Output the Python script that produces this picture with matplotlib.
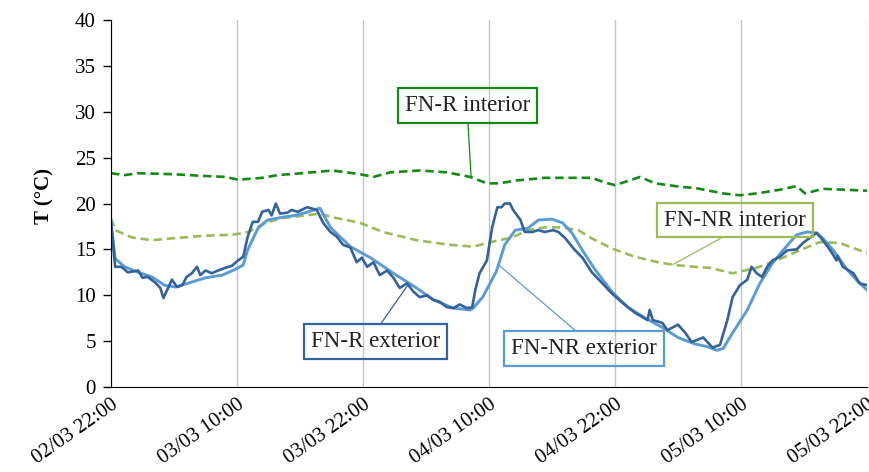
import numpy as np
import pandas as pd
import matplotlib as mpl
mpl.use('Agg')
import matplotlib.pyplot as plt
import matplotlib.dates as mdates

plt.rcParams['font.family'] = ['Liberation Serif', 'DejaVu Serif']

# hours after 02/03 22:00 and temperature [degC]
h_r_int = [0, 1.3, 2.6, 5.8, 9.0, 10.9, 12.1, 14.4, 15.9, 18.2, 21.1, 23.7, 25.0, 26.6,
           29.4, 32.0, 34.2, 35.8, 37.0, 38.5, 41.3, 45.8, 47.0, 48.0, 50.4, 51.8,
           54.4, 55.6, 58.3, 59.9, 61.5, 63.7, 65.3, 66.1, 67.8, 72.0]
t_r_int = [23.3, 23.1, 23.3, 23.2, 23.0, 22.9, 22.6, 22.8, 23.1, 23.3, 23.6, 23.2, 22.9, 23.4,
           23.6, 23.4, 22.9, 22.2, 22.2, 22.5, 22.8, 22.8, 22.3, 22.0, 22.9, 22.2,
           21.8, 21.7, 21.1, 20.9, 21.1, 21.5, 21.9, 21.1, 21.6, 21.4]

h_nr_int = [0, 0.4, 2.0, 3.9, 5.8, 9.0, 11.6, 13.1, 14.7, 16.3, 17.8, 19.9, 21.1, 23.7,
            25.9, 29.1, 32.3, 34.5, 35.8, 38.2, 39.7, 41.3, 43.0, 44.5, 45.8, 47.7,
            49.9, 52.1, 53.7, 55.6, 57.0, 59.2, 61.5, 63.4, 65.6, 67.5, 69.4, 72.0]
t_nr_int = [18.4, 17.1, 16.3, 16.0, 16.2, 16.5, 16.6, 16.9, 17.9, 18.4, 18.6, 18.9, 18.5, 17.9,
            16.9, 16.0, 15.5, 15.3, 15.7, 16.3, 17.1, 17.4, 17.4, 17.1, 16.2, 15.1,
            14.2, 13.6, 13.3, 13.1, 13.0, 12.4, 13.0, 13.8, 14.9, 15.8, 15.7, 14.6]

h_r_ext = [0, 0.4, 1.0, 1.6, 2.6, 3.0, 3.5, 4.2, 4.7, 5.0, 5.8, 6.3, 6.8, 7.2, 7.7, 8.2,
           8.5, 9.0, 9.6, 10.2, 10.9, 11.5, 12.1, 12.6, 13.0, 13.5, 14.0, 14.4, 15.0,
           15.3, 15.7, 16.1, 16.8, 17.2, 17.8, 18.5, 18.7, 19.6, 20.2, 20.9, 21.5,
           22.1, 22.8, 23.4, 23.9, 24.4, 25.0, 25.6, 26.3, 26.9, 27.5, 28.2, 28.8,
           29.4, 30.1, 30.7, 31.3, 32.0, 32.6, 33.2, 33.9, 34.4, 34.7, 35.1, 35.8,
           36.3, 36.8, 37.2, 37.5, 38.0, 38.3, 39.0, 39.4, 40.1, 40.7, 41.3, 42.1,
           42.6, 43.2, 44.2, 44.9, 45.8, 46.8, 47.7, 48.7, 49.9, 51.1, 51.3, 51.6,
           52.5, 53.0, 54.0, 54.7, 55.3, 56.4, 57.3, 58.0, 58.7, 59.2, 59.9, 60.6,
           61.0, 61.5, 62.0, 62.5, 63.0, 63.7, 64.4, 65.3, 65.9, 66.6, 67.2, 67.8,
           68.5, 69.1, 69.2, 69.7, 70.7, 71.3, 72.0]
t_r_ext = [18.0, 13.1, 13.1, 12.5, 12.7, 11.9, 12.0, 11.4, 10.8, 9.7, 11.7, 10.9, 11.1, 12.0,
           12.4, 13.1, 12.2, 12.7, 12.4, 12.7, 13.0, 13.2, 13.8, 14.2, 16.3, 18.0, 18.0,
           19.1, 19.3, 18.7, 20.0, 18.9, 19.0, 19.3, 19.1, 19.5, 19.6, 19.3, 17.9, 16.9,
           16.4, 15.5, 15.2, 13.6, 14.1, 13.1, 13.6, 12.2, 12.7, 11.9, 10.8, 11.3, 10.4,
           9.8, 10.0, 9.5, 9.3, 8.7, 8.6, 9.0, 8.6, 8.7, 10.6, 12.4, 13.8, 17.4, 19.6,
           19.6, 20.0, 20.0, 19.3, 18.2, 16.9, 16.9, 17.1, 16.9, 17.1, 16.9, 16.3, 14.9,
           14.1, 12.5, 11.3, 10.2, 9.2, 8.1, 7.3, 8.4, 7.3, 7.0, 6.2, 6.8, 5.9, 4.9, 5.4,
           4.3, 4.6, 7.3, 9.8, 11.1, 11.7, 13.1, 12.4, 12.0, 13.1, 13.8, 14.2, 14.9, 15.0,
           15.7, 16.3, 16.8, 16.0, 14.9, 13.8, 14.3, 13.1, 12.4, 11.3, 11.1]

h_nr_ext = [0, 0.4, 1.3, 2.6, 3.9, 5.1, 6.1, 7.3, 9.0, 10.6, 11.8, 12.6, 13.0, 14.0, 14.9,
            16.3, 17.5, 18.5, 19.9, 20.9, 22.8, 24.7, 26.9, 29.1, 30.7, 32.6, 34.2, 34.5,
            35.4, 36.7, 37.5, 38.5, 39.7, 40.7, 42.0, 43.0, 43.9, 44.9, 46.1, 47.7, 49.2,
            50.9, 52.5, 54.0, 55.6, 56.8, 57.7, 58.3, 59.2, 60.6, 61.8, 63.0, 64.0, 65.3,
            66.3, 67.2, 67.8, 68.8, 70.1, 71.3, 72.0]
t_nr_ext = [18.0, 14.0, 13.1, 12.5, 12.0, 11.1, 10.9, 11.3, 11.9, 12.2, 12.8, 13.3, 14.9, 17.3,
            18.2, 18.5, 18.7, 19.0, 19.5, 17.4, 15.3, 14.1, 12.4, 10.8, 9.5, 8.6, 8.4, 8.6,
            9.8, 12.6, 15.5, 17.1, 17.3, 18.2, 18.3, 17.9, 16.8, 14.9, 12.8, 10.4, 8.7,
            7.5, 6.5, 5.4, 4.7, 4.4, 4.0, 4.2, 5.9, 8.4, 11.3, 13.5, 14.9, 16.6,
            16.9, 16.8, 16.2, 14.9, 12.8, 11.3, 10.6]

start = pd.Timestamp('2020-03-02 22:00')
def to_time(h):
    return start + pd.to_timedelta(np.array(h), unit='h')

c_r_int = '#138A13'
c_nr_int = '#9BBB59'
c_r_ext = '#34629C'
c_nr_ext = '#5B9BD5'

fig = plt.figure(figsize=(8.69, 4.72), dpi=100)
ax = fig.add_axes([0.1277, 0.18, 0.87, 0.7776])

ax.plot(to_time(h_r_int), t_r_int, color=c_r_int, lw=1.9, ls=(0, (3.2, 1.8)))
ax.plot(to_time(h_nr_int), t_nr_int, color=c_nr_int, lw=1.9, ls=(0, (3.2, 1.8)))
ax.plot(to_time(h_nr_ext), t_nr_ext, color=c_nr_ext, lw=2.1)
ax.plot(to_time(h_r_ext), t_r_ext, color=c_r_ext, lw=1.9)

ax.set_xlim(start, start + pd.Timedelta(hours=72))
ax.set_ylim(0, 40)
ax.set_yticks(np.arange(0, 41, 5))
ax.xaxis.set_major_locator(mdates.HourLocator(byhour=[10, 22]))
ax.xaxis.set_major_formatter(mdates.DateFormatter('%d/%m %H:%M'))
ax.grid(axis='x', color='#C4C4C4', lw=1)
ax.set_axisbelow(True)
for s in ['top', 'right']:
    ax.spines[s].set_visible(False)
ax.tick_params(axis='y', labelsize=15, length=6, width=1, pad=5)
ax.tick_params(axis='x', labelsize=15, length=0, pad=6)
for lab in ax.get_xticklabels():
    lab.set_rotation(35)
    lab.set_ha('right')
    lab.set_rotation_mode('anchor')
ax.set_ylabel('T (°C)', fontsize=15, fontweight='bold')
ax.yaxis.set_label_coords(-0.075, 0.52)

# callout labels
labels = [('FN-R interior', h_r_int, t_r_int, 34.3, (0.4716, 0.767), (0.5, 0), c_r_int),
          ('FN-NR interior', h_nr_int, t_nr_int, 53.5, (0.825, 0.455), (0.5, 0), c_nr_int),
          ('FN-R exterior', h_r_ext, t_r_ext, 28.3, (0.3505, 0.125), (0.5, 1), c_r_ext),
          ('FN-NR exterior', h_nr_ext, t_nr_ext, 36.9, (0.6257, 0.105), (0.5, 1), c_nr_ext)]
for txt, hh, tt, hp, pos, rp, col in labels:
    yp = np.interp(hp, hh, tt)
    ax.annotate(txt, xy=(mdates.date2num(start + pd.Timedelta(hours=hp)), yp),
                xytext=pos, textcoords='axes fraction', ha='center', va='center',
                fontsize=16.5, color='#222222',
                bbox=dict(boxstyle='square,pad=0.3', fc='none', ec=col, lw=1.6),
                arrowprops=dict(arrowstyle='-', color=col, lw=0.9, relpos=rp,
                                shrinkA=0, shrinkB=0))

plt.savefig('out.png', dpi=100)
